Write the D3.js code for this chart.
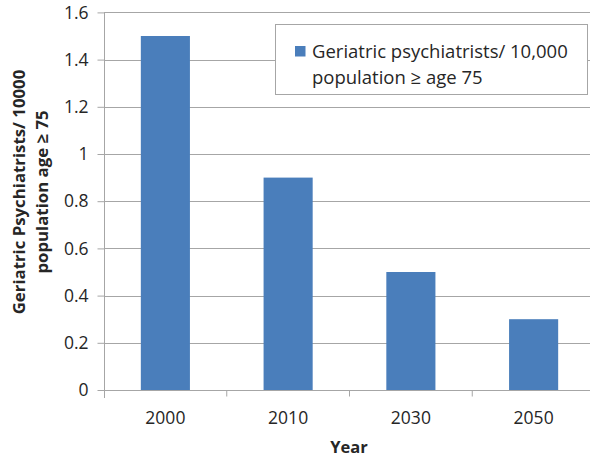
<!DOCTYPE html>
<html>
<head>
<meta charset="utf-8">
<script src="https://cdn.jsdelivr.net/npm/d3@7"></script>
<style>
  body { margin: 0; background: #fff; }
  svg text { font-family: "Open Sans", Lato, sans-serif; fill: #262626; }
</style>
</head>
<body>
<svg id="chart" width="590" height="459"></svg>
<script>
// Geriatric psychiatrists per 10,000 population aged 75 and over
const years = ["2000", "2010", "2030", "2050"];
const ratios = [1.5, 0.9, 0.5, 0.3];
const yTicks = [0, 0.2, 0.4, 0.6, 0.8, 1, 1.2, 1.4, 1.6];
const seriesName = ["Geriatric psychiatrists/ 10,000", "population \u2265 age 75"];
const yTitle = ["Geriatric Psychiatrists/ 10000", "population age \u2265 75"];
const xTitle = "Year";

const svg = d3.select("#chart");
const margin = { left: 104, right: -5, top: 12.4, bottom: 69 };
const W = 590, H = 459;

const x = d3.scaleBand()
  .domain(years)
  .range([margin.left, W - margin.right])
  .paddingInner(0.6)
  .paddingOuter(0.3);

const y = d3.scaleLinear()
  .domain([0, 1.6])
  .range([H - margin.bottom, margin.top]);

const gridColor = "#a6a6a6";

// horizontal gridlines
svg.append("g")
  .selectAll("line")
  .data(yTicks.filter(d => d > 0))
  .join("line")
  .attr("x1", margin.left)
  .attr("x2", W)
  .attr("y1", d => Math.round(y(d)) + 0.5)
  .attr("y2", d => Math.round(y(d)) + 0.5)
  .attr("stroke", gridColor)
  .attr("stroke-width", 1);

// bars
svg.append("g")
  .selectAll("rect")
  .data(years.map((yr, i) => ({ yr, v: ratios[i] })))
  .join("rect")
  .attr("x", d => x(d.yr))
  .attr("width", x.bandwidth())
  .attr("y", d => y(d.v))
  .attr("height", d => y(0) - y(d.v))
  .attr("fill", "#4a7ebb");

// y axis
const yAxis = svg.append("g")
  .attr("transform", `translate(${margin.left + 0.5},0)`)
  .call(d3.axisLeft(y).tickValues(yTicks).tickSize(7).tickPadding(9)
    .tickFormat(d => d3.format("")(+d.toFixed(1))));
yAxis.select(".domain").attr("stroke", gridColor).attr("d", `M0,${y(0) + 8}V${y(1.6)}`);
yAxis.selectAll(".tick line").attr("stroke", gridColor);
yAxis.selectAll(".tick text").style("font-size", "17.5px").attr("fill", "#262626");

// x axis with category boundary ticks
const xAxisY = Math.round(y(0)) + 0.5;
const gx = svg.append("g").attr("transform", `translate(0,${xAxisY})`);
gx.append("line").attr("x1", margin.left).attr("x2", W)
  .attr("stroke", gridColor);
const step = x.step();
const bounds = years.slice(1).map(yr => x(yr) - (step - x.bandwidth()) / 2);
gx.selectAll(".bt").data(bounds).join("line")
  .attr("x1", d => d).attr("x2", d => d)
  .attr("y1", 0).attr("y2", 6)
  .attr("stroke", gridColor);
gx.selectAll("text.lab").data(years).join("text")
  .attr("class", "lab")
  .attr("x", d => x(d) + x.bandwidth() / 2)
  .attr("y", 33)
  .attr("text-anchor", "middle")
  .style("font-size", "17.5px")
  .text(d => d);

// axis titles
svg.append("text")
  .attr("x", 349).attr("y", 453)
  .attr("text-anchor", "middle")
  .style("font-size", "16.5px").style("font-weight", "bold")
  .text(xTitle);

const yt = svg.append("g").attr("transform", "translate(0,192) rotate(-90)");
yTitle.forEach((t, i) => {
  yt.append("text")
    .attr("x", 0).attr("y", 25 + i * 23)
    .attr("text-anchor", "middle")
    .style("font-size", "16.8px").style("font-weight", "bold")
    .text(t);
});

// legend
const lg = svg.append("g");
lg.append("rect")
  .attr("x", 275.5).attr("y", 24.5).attr("width", 312).attr("height", 70)
  .attr("fill", "#fff").attr("stroke", gridColor);
lg.append("rect")
  .attr("x", 295).attr("y", 46).attr("width", 10.5).attr("height", 10.5)
  .attr("fill", "#4a7ebb");
seriesName.forEach((t, i) => {
  lg.append("text")
    .attr("x", 312).attr("y", 57.5 + i * 26)
    .style("font-size", "18.5px")
    .text(t);
});
</script>
</body>
</html>
